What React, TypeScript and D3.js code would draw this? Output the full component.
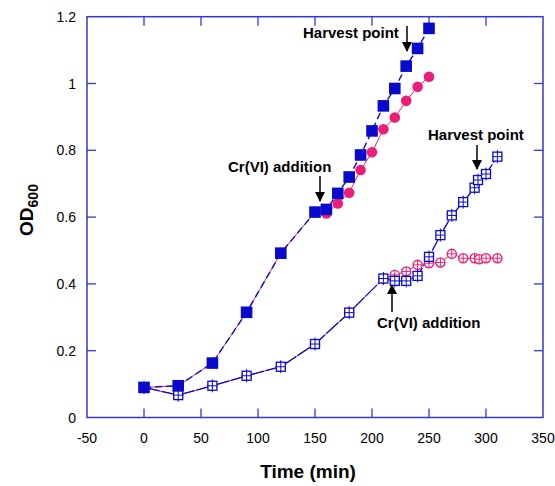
import { useEffect, useRef } from "react";
import * as d3 from "d3";

// filled symbols: high-density culture
const highTime = [0, 30, 60, 90, 120, 150, 160, 170, 180, 190, 200, 210, 220, 230, 240, 250];
const highControl = [0.09, 0.095, 0.163, 0.315, 0.492, 0.615, 0.623, 0.671, 0.72, 0.786, 0.858, 0.933, 0.985, 1.052, 1.105, 1.165];
const highCr = [0.09, 0.095, 0.163, 0.315, 0.492, 0.615, 0.611, 0.641, 0.673, 0.741, 0.794, 0.863, 0.898, 0.948, 0.99, 1.02];

// open symbols: low-density culture
const lowCtrlTime = [0, 30, 60, 90, 120, 150, 180, 210, 220, 230, 240, 250, 260, 270, 280, 290, 293, 300, 310];
const lowControl = [0.09, 0.067, 0.095, 0.125, 0.152, 0.22, 0.314, 0.416, 0.409, 0.409, 0.424, 0.481, 0.546, 0.605, 0.645, 0.688, 0.711, 0.729, 0.781];
const lowCrTime = [0, 30, 60, 90, 120, 150, 180, 210, 220, 230, 240, 250, 260, 270, 280, 290, 294, 300, 310];
const lowCr = [0.09, 0.067, 0.095, 0.125, 0.152, 0.22, 0.314, 0.416, 0.427, 0.437, 0.457, 0.462, 0.464, 0.49, 0.477, 0.477, 0.474, 0.477, 0.477];

const xTicks = [-50, 0, 50, 100, 150, 200, 250, 300, 350];
const yTicks = [0, 0.2, 0.4, 0.6, 0.8, 1, 1.2];

export default function App() {
  const ref = useRef<SVGSVGElement>(null);

  useEffect(() => {
    if (!ref.current) return;
    const svg = d3.select(ref.current);
    svg.selectAll("*").remove();

    const blue = "#0a0acc";
    const pink = "#ec1f78";
    const frame = "#3535d8";
    const font = "'Liberation Sans', Arial, sans-serif";

    const x = d3.scaleLinear().domain([-50, 350]).range([87, 543]);
    const y = d3.scaleLinear().domain([0, 1.2]).range([417.5, 16.7]);

    const zip = (ts: number[], vs: number[]) => ts.map((t, i) => ({ t, v: vs[i] }));
    const hc = zip(highTime, highControl);
    const hr = zip(highTime, highCr);
    const lc = zip(lowCtrlTime, lowControl);
    const lr = zip(lowCrTime, lowCr);

    const line = d3
      .line<{ t: number; v: number }>()
      .x((d) => x(d.t))
      .y((d) => y(d.v));

    // frame + ticks
    const [x0, x1] = x.range();
    const [y0, y1] = y.range();
    svg
      .append("rect")
      .attr("x", x0)
      .attr("y", y1)
      .attr("width", x1 - x0)
      .attr("height", y0 - y1)
      .attr("fill", "none")
      .attr("stroke", frame)
      .attr("stroke-width", 1.5);

    const tl = 9;
    xTicks.slice(1, -1).forEach((t) => {
      svg.append("line").attr("x1", x(t)).attr("x2", x(t)).attr("y1", y0).attr("y2", y0 - tl)
        .attr("stroke", frame).attr("stroke-width", 1.3);
      svg.append("line").attr("x1", x(t)).attr("x2", x(t)).attr("y1", y1).attr("y2", y1 + tl)
        .attr("stroke", frame).attr("stroke-width", 1.3);
    });
    yTicks.slice(1, -1).forEach((v) => {
      svg.append("line").attr("x1", x0).attr("x2", x0 + tl).attr("y1", y(v)).attr("y2", y(v))
        .attr("stroke", frame).attr("stroke-width", 1.3);
      svg.append("line").attr("x1", x1).attr("x2", x1 - tl).attr("y1", y(v)).attr("y2", y(v))
        .attr("stroke", frame).attr("stroke-width", 1.3);
    });

    // tick labels
    svg
      .selectAll(".xl")
      .data(xTicks)
      .enter()
      .append("text")
      .attr("x", (d) => x(d))
      .attr("y", 443)
      .attr("text-anchor", "middle")
      .style("font-family", font)
      .style("font-size", "14px")
      .text((d) => String(d));

    svg
      .selectAll(".yl")
      .data(yTicks)
      .enter()
      .append("text")
      .attr("x", 76)
      .attr("y", (d) => y(d) + 5)
      .attr("text-anchor", "end")
      .style("font-family", font)
      .style("font-size", "14px")
      .text((d) => String(d));

    // axis titles
    svg
      .append("text")
      .attr("x", 308)
      .attr("y", 478)
      .attr("text-anchor", "middle")
      .style("font-family", font)
      .style("font-size", "19px")
      .style("font-weight", "bold")
      .text("Time (min)");

    const od = svg
      .append("text")
      .attr("transform", "translate(33,210) rotate(-90)")
      .attr("text-anchor", "middle")
      .style("font-family", font)
      .style("font-size", "19px")
      .style("font-weight", "bold");
    od.append("tspan").text("OD");
    od.append("tspan").attr("dy", 5).style("font-size", "14px").text("600");

    // lines: pink thin under, blue dashed over
    svg.append("path").datum(lr).attr("d", line).attr("fill", "none").attr("stroke", pink).attr("stroke-width", 1);
    svg.append("path").datum(lc).attr("d", line).attr("fill", "none").attr("stroke", blue).attr("stroke-width", 1.3)
      .attr("stroke-dasharray", "16,2");
    svg.append("path").datum(hr).attr("d", line).attr("fill", "none").attr("stroke", pink).attr("stroke-width", 1);
    svg.append("path").datum(hc).attr("d", line).attr("fill", "none").attr("stroke", blue).attr("stroke-width", 1.4)
      .attr("stroke-dasharray", "7,4");

    // open pink circles with crosshair
    const or = 4.6;
    const gOc = svg.selectAll(".oc").data(lr).enter().append("g")
      .attr("transform", (d) => `translate(${x(d.t)},${y(d.v)})`);
    gOc.append("circle").attr("r", or).attr("fill", "white").attr("stroke", pink).attr("stroke-width", 1.3);
    gOc.append("path").attr("d", `M${-or},0H${or}M0,${-or}V${or}`).attr("stroke", pink).attr("stroke-width", 1);

    // open blue squares with crosshair
    const os = 4.5;
    const gOs = svg.selectAll(".os").data(lc).enter().append("g")
      .attr("transform", (d) => `translate(${x(d.t)},${y(d.v)})`);
    gOs.append("rect").attr("x", -os).attr("y", -os).attr("width", 2 * os).attr("height", 2 * os)
      .attr("fill", "white").attr("stroke", blue).attr("stroke-width", 1.3);
    gOs.append("path").attr("d", `M${-os},0H${os}M0,${-os - 2}V${os + 2}`).attr("stroke", blue).attr("stroke-width", 1);

    // filled pink circles
    svg.selectAll(".fc").data(hr).enter().append("circle")
      .attr("cx", (d) => x(d.t)).attr("cy", (d) => y(d.v)).attr("r", 5.3).attr("fill", pink);

    // filled blue squares
    const fs = 5.8;
    svg.selectAll(".fs").data(hc).enter().append("rect")
      .attr("x", (d) => x(d.t) - fs).attr("y", (d) => y(d.v) - fs)
      .attr("width", 2 * fs).attr("height", 2 * fs).attr("fill", blue);

    // annotations
    svg.append("defs").append("marker")
      .attr("id", "arr").attr("viewBox", "0 0 10 10").attr("refX", 9).attr("refY", 5)
      .attr("markerWidth", 7).attr("markerHeight", 7).attr("orient", "auto")
      .append("path").attr("d", "M0,0L10,5L0,10Z").attr("fill", "black");

    const note = (tx: number, ty: number, label: string, ax: number, ay1: number, ay2: number) => {
      svg.append("text").attr("x", tx).attr("y", ty)
        .style("font-family", font).style("font-size", "15px").style("font-weight", "bold")
        .text(label);
      svg.append("line").attr("x1", ax).attr("x2", ax).attr("y1", ay1).attr("y2", ay2)
        .attr("stroke", "black").attr("stroke-width", 1.5).attr("marker-end", "url(#arr)");
    };
    note(303, 38, "Harvest point", 407, 26, 51);
    note(428, 140, "Harvest point", 477, 145, 169);
    note(228, 172, "Cr(VI) addition", 320, 176, 201);
    note(377, 328, "Cr(VI) addition", 392, 312, 285);
  }, []);

  return (
    <svg
      ref={ref}
      width={555}
      height={486}
      style={{ position: "absolute", left: 0, top: 0, background: "white" }}
    />
  );
}
